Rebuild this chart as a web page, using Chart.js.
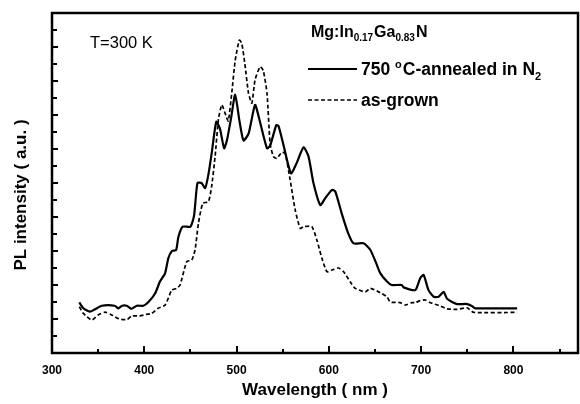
<!DOCTYPE html>
<html><head><meta charset="utf-8">
<script src="https://cdn.jsdelivr.net/npm/chart.js@4.4.0/dist/chart.umd.min.js"></script>
<style>html,body{margin:0;padding:0;background:#fff;overflow:hidden;}</style>
</head><body>
<canvas id="c" width="580" height="404"></canvas>
<script>
// ---- data ----
const annealedWavelength = [329.6,334,341,346.6,354,368,372,376,381,386,392,399,404.5,411.7,417,422.6,426,430,434.5,437,441.7,450,454,457.6,462,466,469.5,473,478,482,486.5,489.5,494,498.5,503,507.5,513,520,524,533,536.4,543,545.5,551,559,565,572.6,578,583.4,590.7,596,603.4,607,614,621,626.8,637.6,645,651.4,655.7,663,668,679,681,693.7,699,702.7,708,713.6,719,724.4,728,733.5,739,750,755,758.8,804];
const annealedIntensity  = [2.98,2.63,2.43,2.57,2.78,2.78,2.63,2.78,2.78,2.6,2.78,2.78,3.0,3.5,4.2,4.7,5.57,6.0,6.06,6.84,7.43,7.43,8.1,10.0,10.0,9.7,10.5,11.74,13.6,13.2,12.04,12.5,13.8,15.2,13.7,12.5,12.9,14.6,13.9,12.04,12.2,13.4,13.35,12.2,10.57,11.16,12.1,11.55,9.98,8.7,9.1,9.6,9.5,8.2,7.04,6.45,6.45,6.06,5.27,4.7,4.2,4.0,4.0,3.86,3.7,4.4,4.59,3.7,3.31,3.31,3.6,3.2,3.0,2.88,2.88,2.76,2.63,2.63];
const asGrownWavelength  = [329.6,334,343,350,357.5,364.7,373.8,381.7,386.4,395,402,408,415,422.6,429.8,435,438.8,446,451.5,455,458.7,463.4,469.5,473,476.8,480.4,484,487.6,491,495,498.5,503,505.7,509,513,516.6,520,525.6,529,533,536.4,540,543.7,549,552.7,558,563.6,569,572.6,581.6,587,592.5,598,603.4,610.5,616,623,628.6,639.5,645,655.7,663,666.6,677.4,683,690,693.7,699,704.5,710,719,728,739,749.8,757,804];
const asGrownIntensity   = [2.72,2.33,1.94,2.24,2.4,2.24,1.98,1.98,2.18,2.18,2.27,2.33,2.63,2.82,3.7,3.8,4.0,5.37,5.47,6.06,7.63,8.8,8.9,9.8,11.6,13.75,14.6,14.1,13.65,15.4,17.2,18.4,18.2,17.0,15.27,14.7,16.06,16.84,16.6,15.27,12.3,11.55,11.45,11.8,11.74,10.2,8.4,7.33,7.43,7.43,6.65,5.57,4.78,4.88,5.0,4.78,4.2,3.8,3.6,3.8,3.55,3.3,3.0,2.96,2.82,2.96,2.96,3.08,3.12,2.96,2.8,2.6,2.57,2.66,2.39,2.39];
const xTickValues      = [300,400,500,600,700,800];
const xMinorTickValues = [350,450,550,650,750,850];
const yTickValues      = [1,2,3,4,5,6,7,8,9,10,11,12,13,14,15,16,17,18,19];
const xAxisTitle = 'Wavelength ( nm )';
const yAxisTitle = 'PL intensity ( a.u. )';
const temperatureLabel = 'T=300 K';
// text pieces: [text, kind] kind: '' normal, 'sub', 'sup'
const sampleTitleParts = [['Mg:In',''],['0.17','sub'],['Ga',''],['0.83','sub'],['N','']];
const annealedLabelParts = [['750 ',''],['o','sup'],['C-annealed in N',''],['2','sub']];
const asGrownLabelParts = [['as-grown','']];

const FONT = '"Liberation Sans", Arial, Helvetica, sans-serif';

function drawParts(ctx, parts, x, y, size, weight) {
  ctx.textBaseline = 'alphabetic';
  ctx.textAlign = 'left';
  let cx = x;
  for (const [t, kind] of parts) {
    let s = size, dy = 0;
    if (kind === 'sub') { s = Math.round(size * 0.62); dy = size * 0.28; }
    if (kind === 'sup') { s = Math.round(size * 0.6); dy = -size * 0.42; }
    ctx.font = weight + ' ' + s + 'px ' + FONT;
    ctx.fillText(t, cx, y + dy);
    cx += ctx.measureText(t).width + (kind ? 1 : 0);
  }
}

const decor = {
  id: 'decor',
  afterDraw(chart) {
    const ctx = chart.ctx, a = chart.chartArea;
    const xs = chart.scales.x, ys = chart.scales.y;
    ctx.save();
    ctx.strokeStyle = '#000';
    ctx.fillStyle = '#000';
    ctx.setLineDash([]);
    // frame
    ctx.lineWidth = 2.5;
    ctx.strokeRect(a.left, a.top, a.right - a.left, a.bottom - a.top);
    // inward ticks
    ctx.lineWidth = 2;
    ctx.beginPath();
    xTickValues.forEach(v => { const p = Math.round(xs.getPixelForValue(v)); ctx.moveTo(p, a.bottom); ctx.lineTo(p, a.bottom - 7); });
    xMinorTickValues.forEach(v => { const p = Math.round(xs.getPixelForValue(v)); ctx.moveTo(p, a.bottom); ctx.lineTo(p, a.bottom - 4); });
    yTickValues.forEach(v => { const p = Math.round(ys.getPixelForValue(v)); ctx.moveTo(a.left, p); ctx.lineTo(a.left + (v % 2 === 0 ? 6 : 5), p); });
    ctx.stroke();
    // y title
    ctx.save();
    ctx.translate(21, 195);
    ctx.rotate(-Math.PI / 2);
    ctx.font = 'bold 17px ' + FONT;
    ctx.textAlign = 'center';
    ctx.textBaseline = 'middle';
    ctx.fillText(yAxisTitle, 0, 0);
    ctx.restore();
    // annotations
    ctx.font = '16.5px ' + FONT;
    ctx.textAlign = 'left';
    ctx.textBaseline = 'middle';
    ctx.fillText(temperatureLabel, 90, 43);
    drawParts(ctx, sampleTitleParts, 311, 37, 16, 'bold');
    // legend
    const ds = chart.data.datasets;
    const rows = [[ds[0], annealedLabelParts, 69], [ds[1], asGrownLabelParts, 100]];
    rows.forEach(([d, parts, y]) => {
      ctx.lineWidth = d.borderWidth;
      ctx.setLineDash(d.borderDash || []);
      ctx.beginPath(); ctx.moveTo(308, y); ctx.lineTo(357, y); ctx.stroke();
      ctx.setLineDash([]);
      drawParts(ctx, parts, 361, y + 6, 17.5, 'bold');
    });
    ctx.restore();
  }
};

const toPoints = (xsArr, ysArr) => xsArr.map((x, i) => ({x, y: ysArr[i]}));

new Chart(document.getElementById('c'), {
  type: 'line',
  data: {
    datasets: [
      { label: '750 °C-annealed in N2', data: toPoints(annealedWavelength, annealedIntensity),
        borderColor: '#000', borderWidth: 2.2, pointRadius: 0, tension: 0.2, fill: false },
      { label: 'as-grown', data: toPoints(asGrownWavelength, asGrownIntensity),
        borderColor: '#000', borderWidth: 1.7, borderDash: [4, 2.5], pointRadius: 0, tension: 0.2, fill: false }
    ]
  },
  options: {
    responsive: false,
    animation: false,
    devicePixelRatio: 1,
    layout: { padding: { top: 13, right: 2, bottom: 0, left: 0 } },
    plugins: { legend: { display: false }, tooltip: { enabled: false } },
    scales: {
      x: {
        type: 'linear', min: 300, max: 870,
        afterBuildTicks: s => { s.ticks = xTickValues.map(v => ({ value: v })); },
        afterFit: s => { s.height = 51; },
        grid: { display: false },
        border: { display: false },
        ticks: { color: '#000', font: { family: FONT, size: 12, weight: 'bold' }, padding: 2, maxRotation: 0, autoSkip: false },
        title: { display: true, text: xAxisTitle, color: '#000', font: { family: FONT, size: 17, weight: 'bold' }, padding: { top: 0, bottom: 3 } }
      },
      y: {
        min: 0, max: 20,
        afterFit: s => { s.width = 52; },
        grid: { display: false },
        border: { display: false },
        ticks: { display: false },
        title: { display: false }
      }
    }
  },
  plugins: [decor]
});
</script>
</body></html>
